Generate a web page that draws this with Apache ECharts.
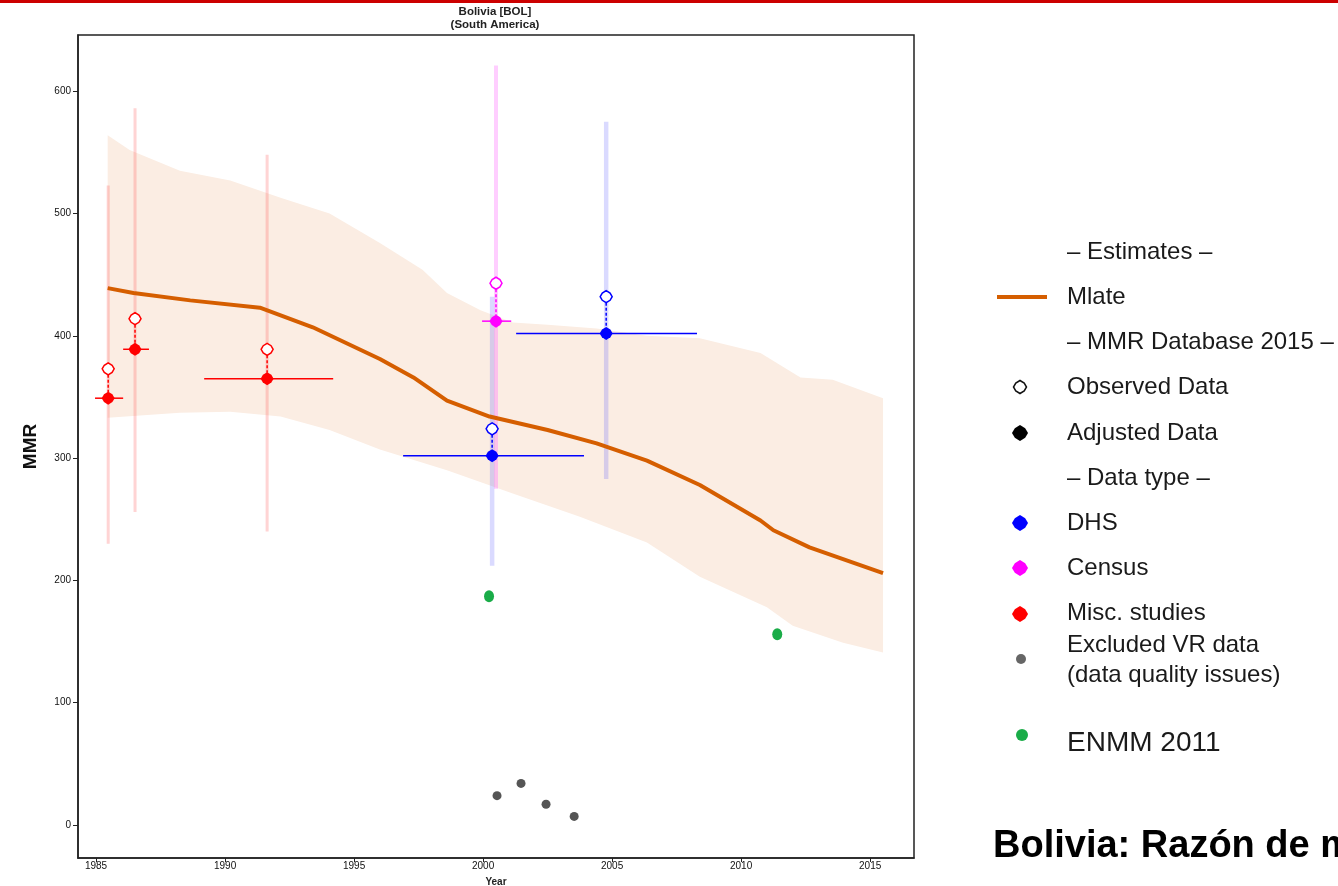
<!DOCTYPE html>
<html><head><meta charset="utf-8">
<script src="https://cdn.jsdelivr.net/npm/echarts@6/dist/echarts.min.js"></script>
<style>html,body{margin:0;padding:0;background:#fff;overflow:hidden}#c{width:1338px;height:886px}</style>
</head><body><div id="c"></div>
<script>
// ---- axis ticks ----
const xTicks = [1985, 1990, 1995, 2000, 2005, 2010, 2015];
const yTicks = [0, 100, 200, 300, 400, 500, 600];

// ---- estimates (Mlate) ----
const estYears = [1985.45, 1986.45, 1988.65, 1991.35, 1993.4, 1996.0, 1997.3, 1998.6, 2000.25, 2002.5, 2004.4, 2006.35, 2008.4, 2010.75, 2011.25, 2012.65, 2015.5];
const estVals  = [439, 435, 429, 423, 407, 381, 366, 347, 334, 323, 312, 298, 278, 249, 241, 227, 206];

// ---- uncertainty band ----
const upperYears = [1985.45, 1986.3, 1988.25, 1990.2, 1992.15, 1994.05, 1996.0, 1997.65, 1998.6, 1999.9, 2001.15, 2002.5, 2004.4, 2006.35, 2008.4, 2010.75, 2012.3, 2013.55, 2015.5];
const upperVals  = [564, 552, 535, 527, 513, 500, 476, 454, 435, 421, 411, 409, 406, 400, 398, 386, 366, 364, 349];
const lowerYears = [1985.45, 1988.25, 1990.2, 1992.15, 1994.05, 1996.0, 1998.6, 2001.15, 2003.75, 2006.35, 2008.4, 2011.0, 2012.0, 2013.95, 2015.5];
const lowerVals  = [333, 337, 338, 334, 323, 307, 290, 271, 252, 231, 203, 178, 163, 149, 141];

// ---- MMR Database 2015 observations ----
const obsType     = ['Misc', 'Misc', 'Misc', 'Census', 'DHS', 'DHS'];
const obsYears    = [1985.47, 1986.51, 1991.63, 2000.5, 2000.35, 2004.77];
const adjVals     = [349, 389, 365, 412, 302, 402];
const obsVals     = [373, 414, 389, 443, 324, 432];
const periodStart = [1984.96, 1986.05, 1989.19, 1999.96, 1996.9, 2001.28];
const periodEnd   = [1986.05, 1987.05, 1994.19, 2001.09, 2003.91, 2008.29];
const ciLow       = [230, 256, 240, 275, 212, 283];
const ciHigh      = [523, 586, 548, 621, 432, 575];

// ---- ENMM 2011 ----
const enmmYears = [2000.23, 2011.4];
const enmmVals  = [187, 156];

// ---- excluded VR data ----
const vrYears = [2000.54, 2001.47, 2002.44, 2003.53];
const vrVals  = [24, 34, 17, 7];

const typeColor = { DHS: '#0000ff', Census: '#ff00ff', Misc: '#ff0000' };
const ciColor = { DHS: 'rgba(70,70,255,0.2)', Census: 'rgba(255,80,255,0.28)', Misc: 'rgba(255,60,60,0.22)' };
const ciWidth = { DHS: 4.5, Census: 4, Misc: 3 };
const FONT = '"Liberation Sans", Arial, sans-serif';
const diamondPath = 'path://M0,-10 L6.5,-6 L10,0 L6.5,6 L0,10 L-6.5,6 L-10,0 L-6.5,-6 Z';

const obsRows = obsYears.map((y, i) => [y, adjVals[i], obsVals[i], ciLow[i], ciHigh[i], periodStart[i], periodEnd[i], i]);

function diamondPts(cx, cy, r) {
  return [[cx, cy - r], [cx + 0.65 * r, cy - 0.6 * r], [cx + r, cy], [cx + 0.65 * r, cy + 0.6 * r],
          [cx, cy + r], [cx - 0.65 * r, cy + 0.6 * r], [cx - r, cy], [cx - 0.65 * r, cy - 0.6 * r]];
}

const legendText = (txt, y, size) => ({
  type: 'text', x: 1067, y: y,
  style: { text: txt, font: (size || 24) + 'px ' + FONT, fill: '#1a1a1a', verticalAlign: 'middle' }
});

const chart = echarts.init(document.getElementById('c'), null, { renderer: 'canvas' });
chart.setOption({
  animation: false,
  backgroundColor: '#ffffff',
  grid: { left: 78, right: 424, top: 35, bottom: 28, show: true, borderColor: '#222', borderWidth: 1.5, backgroundColor: 'transparent', containLabel: false, outerBoundsMode: 'none' },
  xAxis: {
    type: 'value', min: 1984.3, max: 2016.7,
    axisLine: { show: true, onZero: false, lineStyle: { color: '#222', width: 1.5 } },
    axisTick: { show: true, inside: false, length: 4, customValues: xTicks, lineStyle: { color: '#222' } },
    axisLabel: { customValues: xTicks, formatter: v => String(v), fontSize: 10, color: '#111', margin: 3, fontFamily: FONT },
    splitLine: { show: false },
    name: 'Year', nameLocation: 'middle', nameGap: 19,
    nameTextStyle: { fontSize: 10, fontWeight: 'bold', color: '#222', fontFamily: FONT }
  },
  yAxis: {
    type: 'value', min: -27, max: 646,
    axisLine: { show: true, onZero: false, lineStyle: { color: '#222', width: 1.5 } },
    axisTick: { show: true, inside: false, length: 5, customValues: yTicks, lineStyle: { color: '#222' } },
    axisLabel: { customValues: yTicks, formatter: v => String(v), fontSize: 10, color: '#111', margin: 7, fontFamily: FONT },
    splitLine: { show: false },
    name: 'MMR', nameLocation: 'middle', nameGap: 38, nameRotate: 90,
    nameTextStyle: { fontSize: 19, fontWeight: 'bold', color: '#111', fontFamily: FONT }
  },
  graphic: [
    { type: 'rect', left: 0, top: 0, shape: { width: 1338, height: 3 }, style: { fill: '#cc0000' } },
    { type: 'text', x: 495, y: 12, style: { text: 'Bolivia [BOL]', font: 'bold 11.5px ' + FONT, fill: '#222', align: 'center', verticalAlign: 'middle' } },
    { type: 'text', x: 495, y: 25, style: { text: '(South America)', font: 'bold 11.5px ' + FONT, fill: '#222', align: 'center', verticalAlign: 'middle' } },
    // legend
    legendText('– Estimates –', 252),
    { type: 'line', shape: { x1: 997, y1: 297, x2: 1047, y2: 297 }, style: { stroke: '#d55e00', lineWidth: 4 } },
    legendText('Mlate', 297),
    legendText('– MMR Database 2015 –', 342),
    { type: 'polygon', shape: { points: diamondPts(1020, 387, 6.5) }, style: { fill: '#fff', stroke: '#111', lineWidth: 1.5 } },
    legendText('Observed Data', 387),
    { type: 'polygon', shape: { points: diamondPts(1020, 433, 8) }, style: { fill: '#000' } },
    legendText('Adjusted Data', 433),
    legendText('– Data type –', 478),
    { type: 'polygon', shape: { points: diamondPts(1020, 523, 8) }, style: { fill: '#0000ff' } },
    legendText('DHS', 523),
    { type: 'polygon', shape: { points: diamondPts(1020, 568, 8) }, style: { fill: '#ff00ff' } },
    legendText('Census', 568),
    { type: 'polygon', shape: { points: diamondPts(1020, 614, 8) }, style: { fill: '#ff0000' } },
    legendText('Misc. studies', 613),
    { type: 'circle', shape: { cx: 1021, cy: 659, r: 5 }, style: { fill: '#666' } },
    legendText('Excluded VR data', 645),
    legendText('(data quality issues)', 675),
    { type: 'circle', shape: { cx: 1022, cy: 735, r: 6 }, style: { fill: '#1aac48' } },
    legendText('ENMM 2011', 743, 28),
    { type: 'text', x: 993, y: 847, style: { text: 'Bolivia: Razón de mortalidad materna', font: 'bold 38px ' + FONT, fill: '#000', verticalAlign: 'middle' } }
  ],
  series: [
    {
      name: 'band', type: 'custom', z: 1, silent: true, clip: true,
      data: [[upperYears[0], upperVals[0]]],
      encode: { x: 0, y: 1 },
      renderItem: function (params, api) {
        const pts = [];
        for (let i = 0; i < upperYears.length; i++) pts.push(api.coord([upperYears[i], upperVals[i]]));
        for (let i = lowerYears.length - 1; i >= 0; i--) pts.push(api.coord([lowerYears[i], lowerVals[i]]));
        return { type: 'polygon', shape: { points: pts }, style: { fill: '#fbede3' } };
      }
    },
    {
      name: 'ci', type: 'custom', z: 2, silent: true,
      data: obsRows, encode: { x: 0, y: [3, 4] },
      renderItem: function (params, api) {
        const i = api.value(7); const t = obsType[i];
        const p1 = api.coord([api.value(0), api.value(3)]);
        const p2 = api.coord([api.value(0), api.value(4)]);
        return { type: 'line', shape: { x1: p1[0], y1: p1[1], x2: p2[0], y2: p2[1] }, style: { stroke: ciColor[t], lineWidth: ciWidth[t] } };
      }
    },
    {
      name: 'Mlate', type: 'line', z: 3, showSymbol: false, silent: true,
      data: estYears.map((y, i) => [y, estVals[i]]),
      lineStyle: { color: '#d55e00', width: 4 }
    },
    {
      name: 'bars', type: 'custom', z: 4, silent: true,
      data: obsRows, encode: { x: [5, 6], y: [1, 2] },
      renderItem: function (params, api) {
        const i = api.value(7); const c = typeColor[obsType[i]];
        const a = api.coord([api.value(5), api.value(1)]);
        const b = api.coord([api.value(6), api.value(1)]);
        const adj = api.coord([api.value(0), api.value(1)]);
        const ob = api.coord([api.value(0), api.value(2)]);
        return { type: 'group', children: [
          { type: 'line', shape: { x1: a[0], y1: a[1], x2: b[0], y2: b[1] }, style: { stroke: c, lineWidth: 1.5 } },
          { type: 'line', shape: { x1: ob[0], y1: ob[1] + 6, x2: adj[0], y2: adj[1] - 6 }, style: { stroke: c, lineWidth: 1.5, lineDash: [3, 2] } }
        ] };
      }
    },
    {
      name: 'Adjusted Data', type: 'scatter', z: 5, silent: true,
      symbol: diamondPath, symbolSize: 13,
      data: obsRows.map(r => ({ value: [r[0], r[1]], itemStyle: { color: typeColor[obsType[r[7]]], opacity: 1 } }))
    },
    {
      name: 'Observed Data', type: 'scatter', z: 5, silent: true,
      symbol: diamondPath, symbolSize: 12,
      data: obsRows.map(r => ({ value: [r[0], r[2]], itemStyle: { color: '#fff', borderColor: typeColor[obsType[r[7]]], borderWidth: 1.5, opacity: 1 } }))
    },
    {
      name: 'ENMM 2011', type: 'scatter', z: 5, silent: true,
      symbol: 'circle', symbolSize: [10, 12],
      data: enmmYears.map((y, i) => [y, enmmVals[i]]),
      itemStyle: { color: '#1aac48', opacity: 1 }
    },
    {
      name: 'Excluded VR data', type: 'scatter', z: 5, silent: true,
      symbol: 'circle', symbolSize: 9,
      data: vrYears.map((y, i) => [y, vrVals[i]]),
      itemStyle: { color: '#555555', opacity: 1 }
    }
  ]
});
</script>
</body></html>
